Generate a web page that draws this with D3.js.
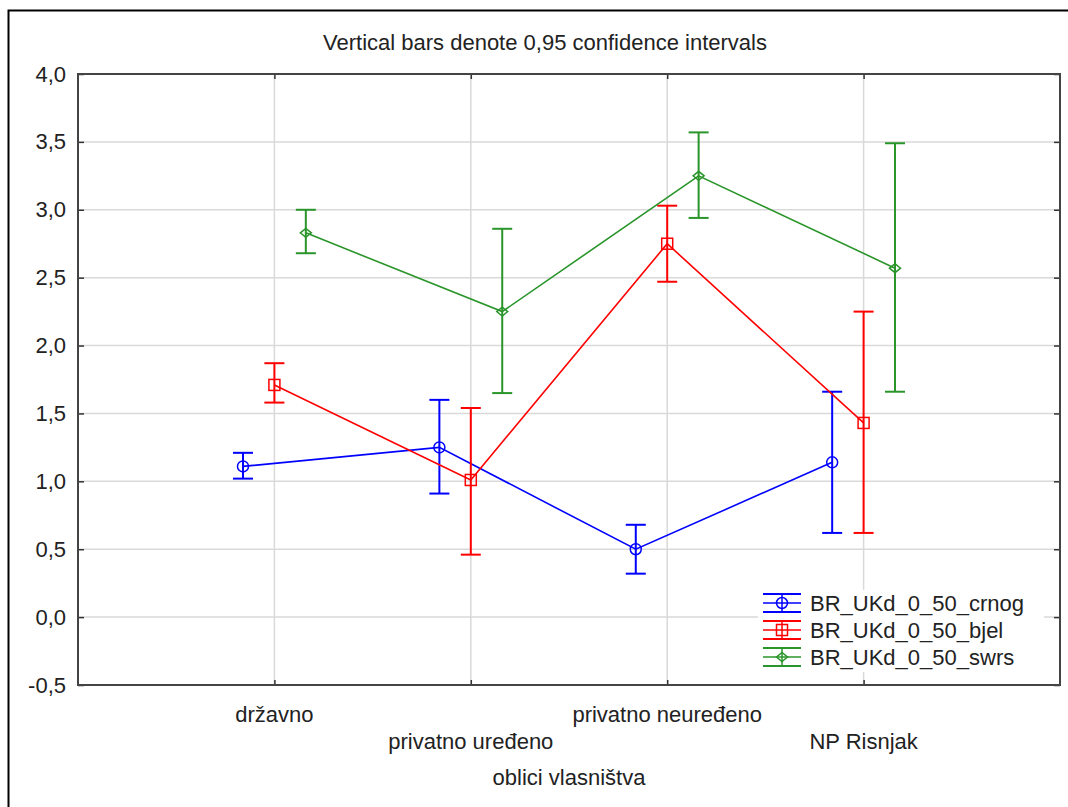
<!DOCTYPE html>
<html><head><meta charset="utf-8">
<script src="https://cdn.jsdelivr.net/npm/d3@7"></script>
<style>body{margin:0;background:#fff}svg{display:block}text{font-family:"Liberation Sans",Arial,sans-serif;fill:#222}</style>
</head><body>
<svg id="c" width="1068" height="807"></svg>
<script>
const categories = ["državno","privatno uređeno","privatno neuređeno","NP Risnjak"];
const seriesNames = ["BR_UKd_0_50_crnog","BR_UKd_0_50_bjel","BR_UKd_0_50_swrs"];
const crnogMean = [1.11, 1.25, 0.50, 1.14];
const crnogLow  = [1.02, 0.91, 0.32, 0.62];
const crnogHigh = [1.21, 1.60, 0.68, 1.66];
const bjelMean = [1.71, 1.01, 2.75, 1.43];
const bjelLow  = [1.58, 0.46, 2.47, 0.62];
const bjelHigh = [1.87, 1.54, 3.03, 2.25];
const swrsMean = [2.83, 2.25, 3.25, 2.57];
const swrsLow  = [2.68, 1.65, 2.94, 1.66];
const swrsHigh = [3.00, 2.86, 3.57, 3.49];
const yTicks = [-0.5,0,0.5,1,1.5,2,2.5,3,3.5,4];

const colors = ["#0000ff","#ff0000","#2a952a"];
const offsets = [-0.16, 0, 0.16];
const shapes = ["circle","square","diamond"];
const series = [
  {mean:crnogMean, low:crnogLow, high:crnogHigh},
  {mean:bjelMean, low:bjelLow, high:bjelHigh},
  {mean:swrsMean, low:swrsLow, high:swrsHigh}
];

const FS = 22;
const svg = d3.select("#c");
const L=78, R=1060, T=74, B=685;
const x = d3.scaleLinear().domain([0,5]).range([L,R]);
const y = d3.scaleLinear().domain([-0.5,4]).range([B,T]);
const fmt = v => d3.format(".1f")(v).replace(".",",").replace("−","-");

// outer frame
svg.append("path").attr("d","M8.5,807 V10.5 H1068").attr("fill","none").attr("stroke","#000").attr("stroke-width",2);

// title
svg.append("text").attr("x",545).attr("y",50).attr("text-anchor","middle").attr("font-size",FS).text("Vertical bars denote 0,95 confidence intervals");

// grid
const g = svg.append("g");
g.selectAll(".hg").data(yTicks.slice(1,-1)).join("line")
  .attr("x1",L).attr("x2",R).attr("y1",d=>y(d)).attr("y2",d=>y(d)).attr("stroke","#d9d9d9").attr("stroke-width",1.5);
g.selectAll(".vg").data(categories).join("line")
  .attr("x1",(d,i)=>x(i+1)).attr("x2",(d,i)=>x(i+1)).attr("y1",T).attr("y2",B).attr("stroke","#d9d9d9").attr("stroke-width",1.5);

// axes
const yAxis = d3.axisLeft(y).tickValues(yTicks).tickSize(-6).tickPadding(12).tickFormat(fmt);
const ya = svg.append("g").attr("transform",`translate(${L},0)`).call(yAxis);
ya.select(".domain").remove();
ya.selectAll("text").attr("font-size",FS).attr("fill","#222").attr("font-family","Liberation Sans, Arial, sans-serif");
const yAxisR = d3.axisRight(y).tickValues(yTicks).tickSize(-6).tickFormat("");
const yr = svg.append("g").attr("transform",`translate(${R},0)`).call(yAxisR);
yr.select(".domain").remove();
const xAxis = d3.axisBottom(x).tickValues([1,2,3,4]).tickSize(-5).tickFormat("");
const xa = svg.append("g").attr("transform",`translate(0,${B})`).call(xAxis);
xa.select(".domain").remove();
const xAxisT = d3.axisTop(x).tickValues([1,2,3,4]).tickSize(-5).tickFormat("");
const xt = svg.append("g").attr("transform",`translate(0,${T})`).call(xAxisT);
xt.select(".domain").remove();
svg.selectAll(".tick line").attr("stroke","#333").attr("stroke-width",1.5);

// x labels
svg.selectAll(".xl").data(categories).join("text")
  .attr("x",(d,i)=>x(i+1)).attr("y",(d,i)=> i%2===0 ? 722 : 749)
  .attr("text-anchor","middle").attr("font-size",FS).text(d=>d);
svg.append("text").attr("x",(L+R)/2).attr("y",785).attr("text-anchor","middle").attr("font-size",FS).text("oblici vlasništva");

// plot frame
svg.append("rect").attr("x",L).attr("y",T).attr("width",R-L).attr("height",B-T).attr("fill","none").attr("stroke","#444").attr("stroke-width",2);

function marker(sel, shape, color){
  if(shape==="circle") sel.append("circle").attr("r",5.5).attr("fill","none").attr("stroke",color).attr("stroke-width",1.5);
  else if(shape==="square") sel.append("rect").attr("x",-5.5).attr("y",-5.5).attr("width",11).attr("height",11).attr("fill","none").attr("stroke",color).attr("stroke-width",1.5);
  else sel.append("path").attr("d","M-5.5,0L0,-4.5L5.5,0L0,4.5Z").attr("fill","none").attr("stroke",color).attr("stroke-width",1.5);
}

series.forEach((s,k)=>{
  const c = colors[k];
  const gs = svg.append("g");
  const px = i => x(i+1+offsets[k]);
  const line = d3.line().x((d,i)=>px(i)).y(d=>y(d));
  gs.append("path").attr("d",line(s.mean)).attr("fill","none").attr("stroke",c).attr("stroke-width",1.6);
  s.mean.forEach((m,i)=>{
    const cx = px(i);
    gs.append("line").attr("x1",cx).attr("x2",cx).attr("y1",y(s.low[i])).attr("y2",y(s.high[i])).attr("stroke",c).attr("stroke-width",2);
    [s.low[i], s.high[i]].forEach(v=>{
      gs.append("line").attr("x1",cx-10).attr("x2",cx+10).attr("y1",y(v)).attr("y2",y(v)).attr("stroke",c).attr("stroke-width",2);
    });
    const mg = gs.append("g").attr("transform",`translate(${cx},${y(m)})`);
    marker(mg, shapes[k], c);
  });
});

// legend
const lg = svg.append("g");
lg.append("rect").attr("x",758).attr("y",590).attr("width",286).attr("height",82).attr("fill","#fff");
seriesNames.forEach((n,k)=>{
  const cy = 603 + k*27;
  const c = colors[k];
  const e = lg.append("g").attr("transform",`translate(782,${cy})`);
  e.append("line").attr("x1",-19).attr("x2",19).attr("y1",0).attr("y2",0).attr("stroke",c).attr("stroke-width",1.5);
  e.append("line").attr("x1",-19).attr("x2",19).attr("y1",-9).attr("y2",-9).attr("stroke",c).attr("stroke-width",2);
  e.append("line").attr("x1",-19).attr("x2",19).attr("y1",9).attr("y2",9).attr("stroke",c).attr("stroke-width",2);
  e.append("line").attr("x1",0).attr("x2",0).attr("y1",-9).attr("y2",9).attr("stroke",c).attr("stroke-width",1.5);
  marker(e, shapes[k], c);
  lg.append("text").attr("x",810).attr("y",cy+8).attr("font-size",FS).text(n);
});
</script>
</body></html>
